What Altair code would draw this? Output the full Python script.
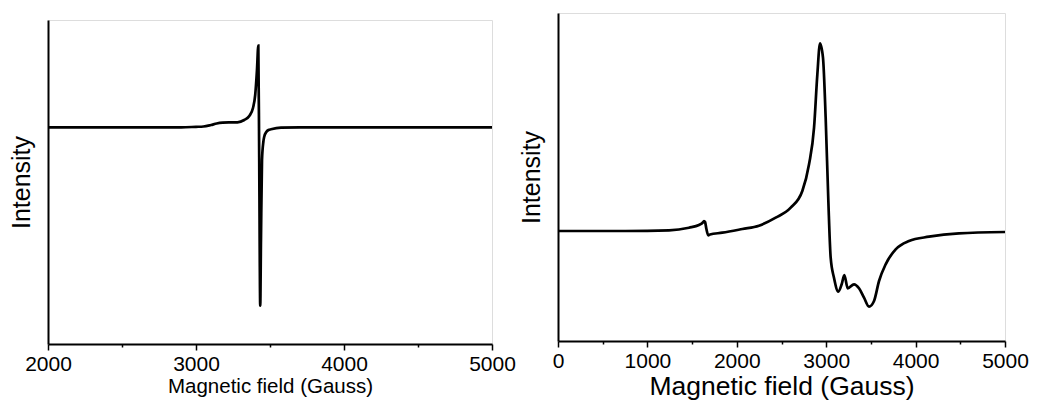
import altair as alt
import pandas as pd

# Spectrum (a): field in Gauss, intensity in arbitrary units (baseline = 0)
field_a = [2000, 2500, 2900, 3000, 3050, 3101, 3140, 3180, 3230, 3280, 3326,
           3360, 3385, 3400, 3412, 3421, 3427, 3434, 3439, 3446, 3455, 3461,
           3475, 3490, 3507, 3574, 3700, 4200, 4600, 5000]
signal_a = [0.0, 0.0, 0.0, 0.005, 0.008, 0.023, 0.038, 0.046, 0.049, 0.050, 0.073,
            0.113, 0.193, 0.323, 0.573, 0.816, -0.30, -1.784, -1.127, -0.327, -0.147, -0.094,
            -0.047, -0.027, -0.020, -0.004, 0.0, 0.0, 0.0, 0.0]

# Spectrum (b)
field_b = [0, 754, 1242, 1465, 1577, 1620, 1633, 1645, 1660, 1681, 1700, 1838,
           2062, 2248, 2435, 2603, 2733, 2808, 2864, 2901, 2931, 2964, 2994, 3024,
           3050, 3087, 3136, 3173, 3203, 3241, 3311, 3367, 3423, 3479, 3535, 3591,
           3665, 3777, 3926, 4150, 4485, 5000]
signal_b = [0.0, 0.0, 0.007, 0.033, 0.06, 0.085, 0.10, 0.09, 0.02, -0.043, -0.035, -0.017,
            0.02, 0.053, 0.133, 0.233, 0.40, 0.667, 1.033, 1.567, 1.877, 1.733, 1.133, 0.30,
            -0.267, -0.467, -0.607, -0.533, -0.44, -0.573, -0.533, -0.573, -0.667, -0.757, -0.70, -0.50,
            -0.333, -0.183, -0.10, -0.057, -0.023, -0.01]

ticks_a = [2000, 2500, 3000, 3500, 4000, 4500, 5000]
ticks_b = [0, 500, 1000, 1500, 2000, 2500, 3000, 3500, 4000, 4500, 5000]

FONT = "Liberation Sans"

df_a = pd.DataFrame({"field": field_a, "signal": signal_a})
df_b = pd.DataFrame({"field": field_b, "signal": signal_b})


def panel(df, xdom, ydom, ticks, w, h, label_size, title_size, ytitle_size, ytitle_pad):
    minor = {"condition": {"test": "datum.value % 1000 !== 0", "value": 3}, "value": 6}
    xaxis = alt.Axis(
        title="Magnetic field (Gauss)",
        values=ticks,
        labelExpr="datum.value % 1000 === 0 ? format(datum.value, 'd') : ''",
        labelFlush=False,
        labelOverlap=False,
        grid=False,
        tickSize=minor,
        tickColor="black",
        tickWidth=1.5,
        domainColor="black",
        domainWidth=2,
        labelFont=FONT,
        labelFontSize=label_size,
        labelColor="black",
        labelPadding=3,
        titleFont=FONT,
        titleFontSize=title_size,
        titleFontWeight="normal",
        titleColor="black",
        titlePadding=2,
    )
    yaxis = alt.Axis(
        title="Intensity",
        labels=False,
        ticks=False,
        grid=False,
        domainColor="black",
        domainWidth=2,
        titleFont=FONT,
        titleFontSize=ytitle_size,
        titleFontWeight="normal",
        titleColor="black",
        titlePadding=ytitle_pad,
    )
    return (
        alt.Chart(df)
        .mark_line(color="black", strokeWidth=2.7, interpolate="monotone")
        .encode(
            x=alt.X("field:Q", scale=alt.Scale(domain=xdom, nice=False, zero=False), axis=xaxis),
            y=alt.Y("signal:Q", scale=alt.Scale(domain=ydom, nice=False, zero=False), axis=yaxis),
        )
        .properties(width=w, height=h)
    )


# empty strip above spectrum (a) so its frame sits a little lower
spacer = (
    alt.Chart(pd.DataFrame({"field": [0]}))
    .mark_rule(strokeOpacity=0)
    .encode(x=alt.value(0), y=alt.value(0))
    .properties(width=444, height=6, view=alt.ViewBackground(strokeOpacity=0))
)

left = panel(df_a, [2000, 5000], [-2.167, 1.073], ticks_a, 444, 324, 21, 20.5, 25, 14)
right = panel(df_b, [0, 5000], [-1.10, 2.18], ticks_b, 447, 328, 21, 26.5, 25, 14)

chart = (
    alt.hconcat(alt.vconcat(spacer, left, spacing=0), right, spacing=2)
    .properties(padding={"left": 8, "top": 12, "right": 0, "bottom": 0})
    .configure_view(stroke="#333333", strokeWidth=2)
    .configure(background="white")
)

chart.save("out.html", embed_options={"renderer": "svg", "actions": False})
